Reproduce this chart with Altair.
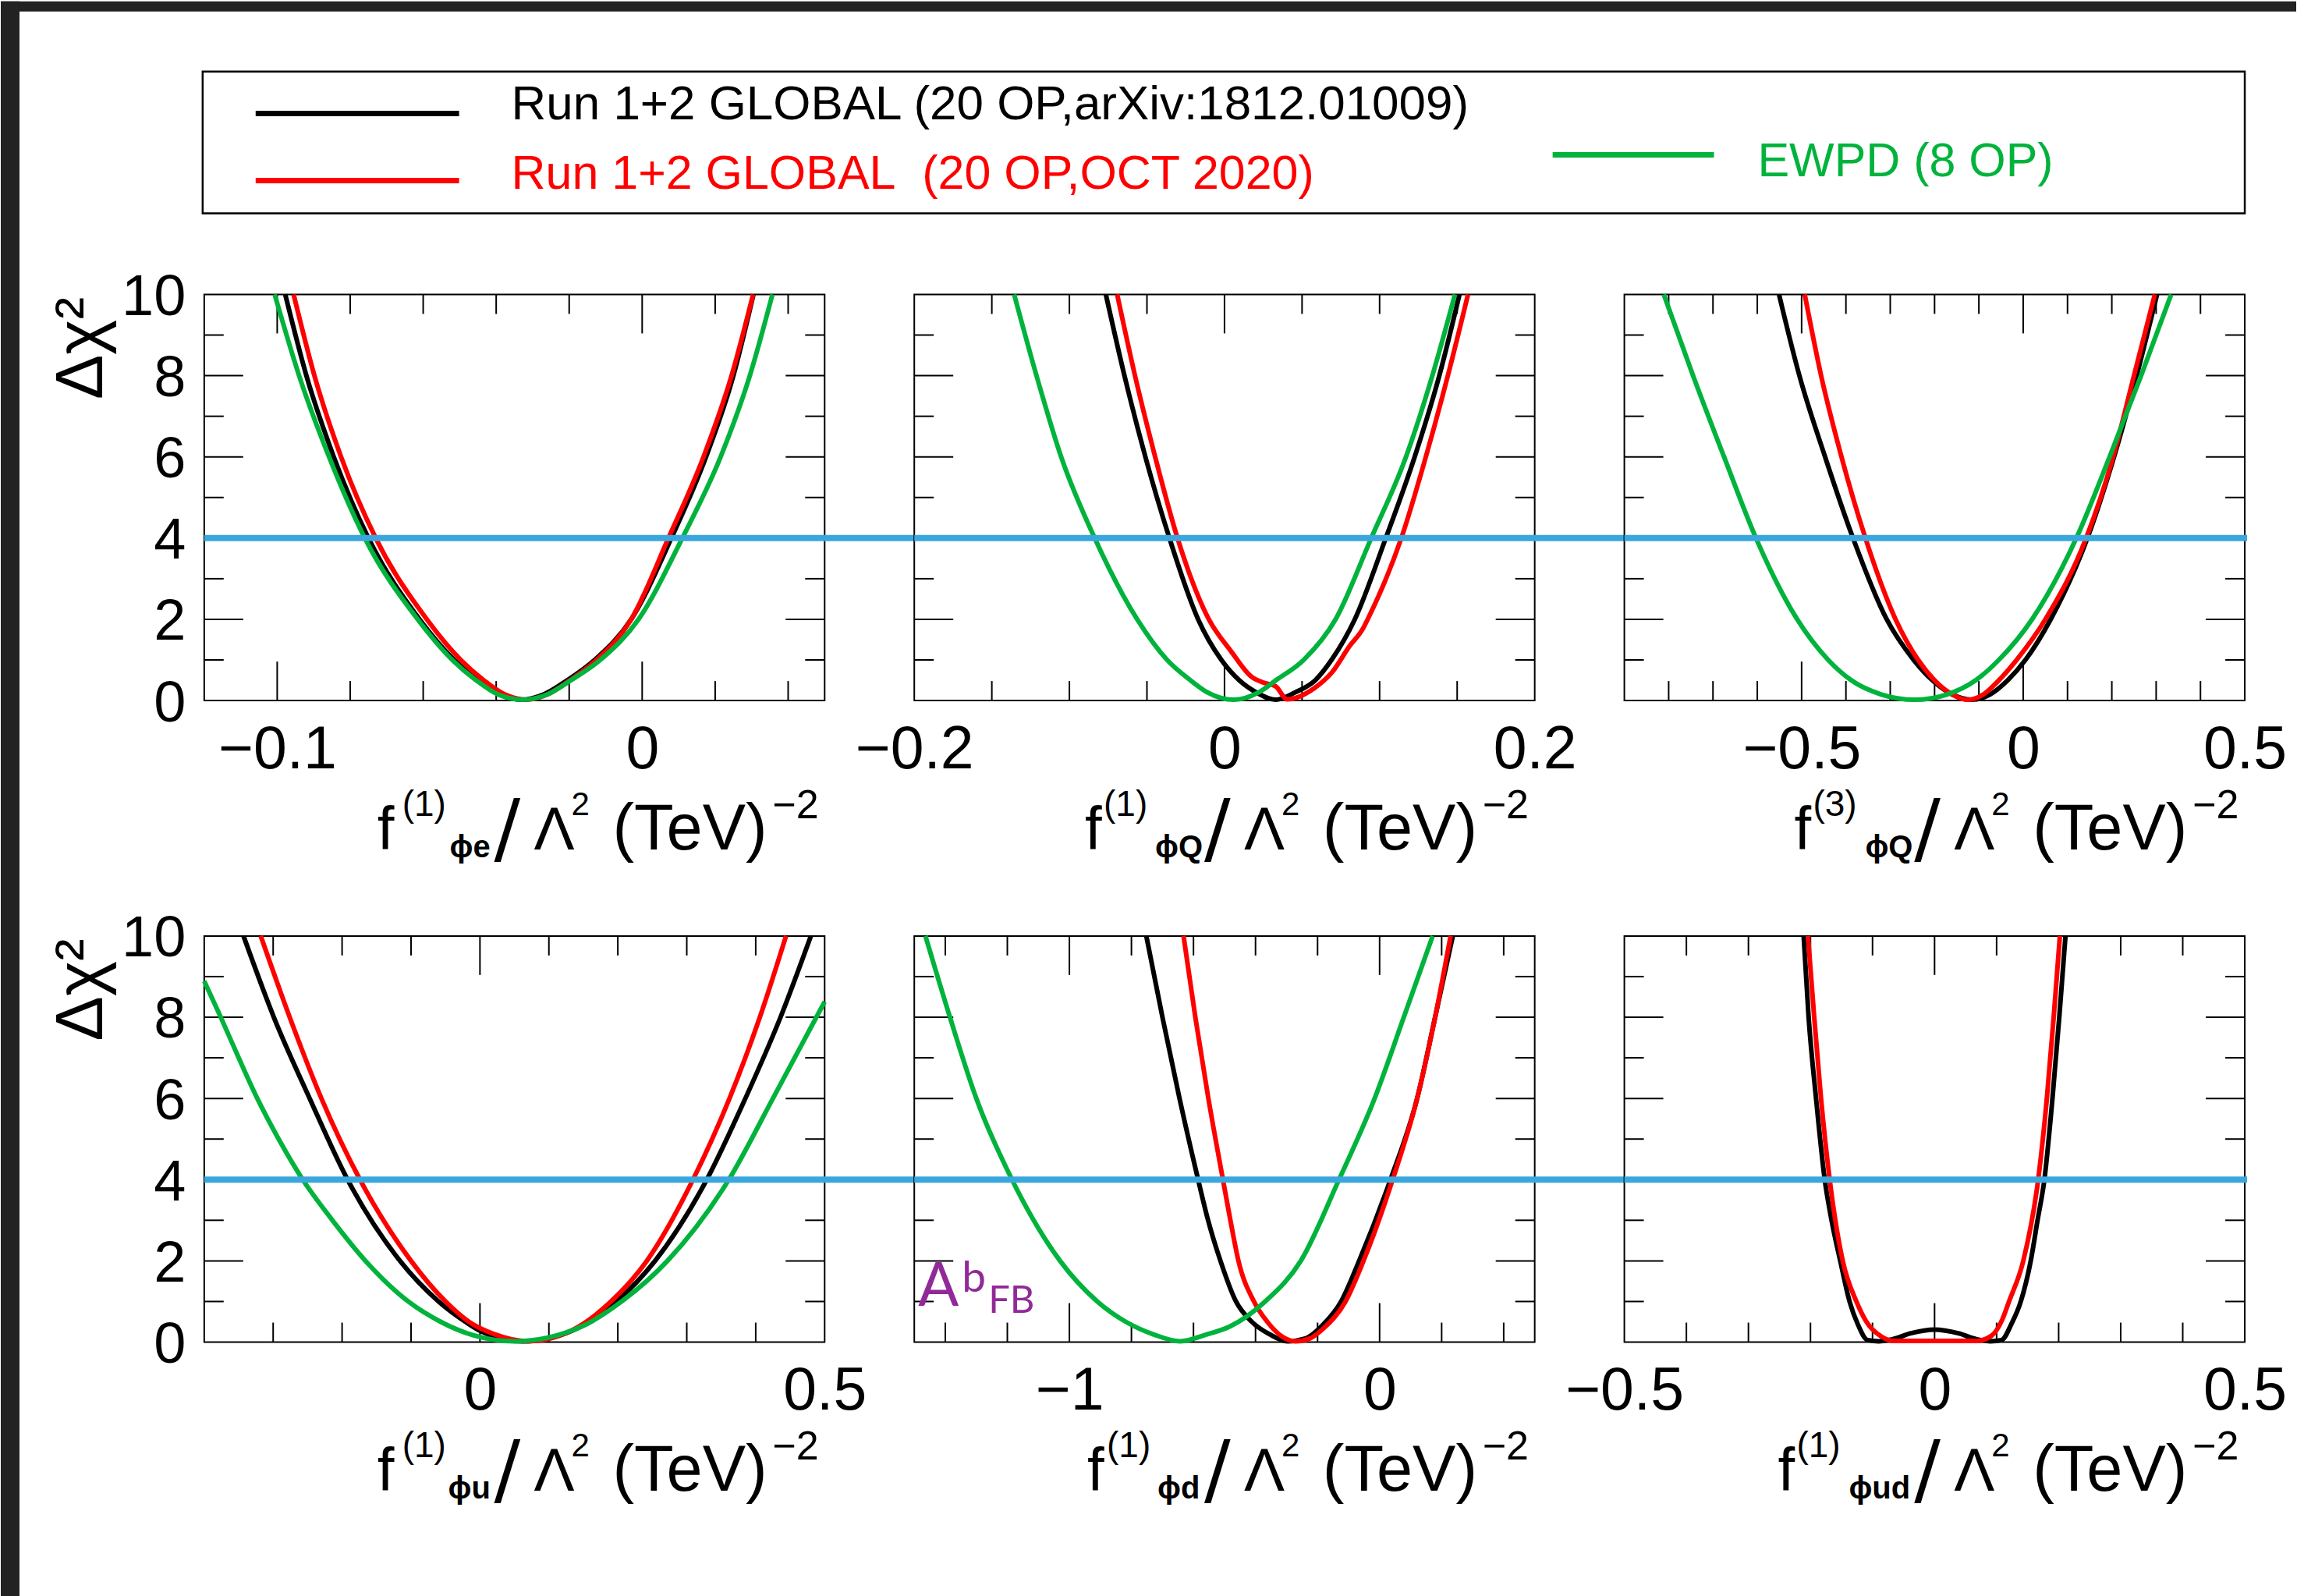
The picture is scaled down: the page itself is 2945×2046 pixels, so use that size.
import altair as alt
import pandas as pd

# ---------------- data ----------------
SERIES = ["Run 1+2 GLOBAL (20 OP,arXiv:1812.01009)",
          "Run 1+2 GLOBAL\u00a0 (20 OP,OCT 2020)",
          "EWPD (8 OP)"]
COLORS = ["#000000", "#ff0000", "#00b33c"]
THRESHOLD = 4.0

Y_LABELS = [0, 2, 4, 6, 8, 10]
Y_TICKS_LONG = [2, 4, 6, 8]
Y_TICKS_SHORT = [1, 3, 5, 7, 9]

# panel 1 : f(1)_phi e
E_Y = [10, 8, 6, 4, 2, 1, 0.5, 0.15, 0.02, 0.15, 0.5, 1, 2, 4, 6, 8, 10]
E_BLACK_X = [-0.0978, -0.0920, -0.0845, -0.0750, -0.0610, -0.0515, -0.0450, -0.0390, -0.0330,
             -0.0270, -0.0205, -0.0130, -0.0030, 0.0080, 0.0175, 0.0250, 0.0305]
E_RED_X = [-0.0955, -0.0898, -0.0825, -0.0730, -0.0590, -0.0497, -0.0434, -0.0376, -0.0318,
           -0.0260, -0.0198, -0.0125, -0.0030, 0.0072, 0.0168, 0.0245, 0.0304]
E_GREEN_X = [-0.1007, -0.0940, -0.0858, -0.0760, -0.0615, -0.0520, -0.0455, -0.0395, -0.0327,
             -0.0260, -0.0195, -0.0115, -0.0010, 0.0110, 0.0215, 0.0295, 0.0357]

# panel 2 : f(1)_phi Q
Q1_BLACK_X = [-0.0765, -0.0645, -0.0510, -0.0355, -0.0170, -0.0020, 0.0095, 0.0205, 0.0330,
              0.0455, 0.0585, 0.0690, 0.0840, 0.1040, 0.1226, 0.1385, 0.1515]
Q1_BLACK_Y = [10, 8, 6, 4, 2, 1, 0.5, 0.2, 0.02, 0.2, 0.5, 1, 2, 4, 6, 8, 10]
Q1_RED_X = [-0.0692, -0.0577, -0.0447, -0.0303, -0.0101, 0.0043, 0.0173, 0.0245, 0.0330, 0.0404,
            0.0577, 0.0692, 0.0808, 0.0894, 0.0923, 0.1140, 0.1298, 0.1440, 0.1570]
Q1_RED_Y = [10, 8, 6, 4, 2, 1.21, 0.59, 0.45, 0.35, 0.03, 0.30, 0.69, 1.35, 1.78, 2.0, 4, 6, 8, 10]
Q1_GREEN_X = [-0.1356, -0.1212, -0.1053, -0.0837, -0.0563, -0.0370, -0.0220, -0.0110, 0.0060,
              0.0220, 0.0332, 0.0510, 0.0716, 0.0946, 0.1170, 0.1340, 0.1486]
Q1_GREEN_Y = [10, 8, 6, 4, 2, 1, 0.5, 0.2, 0.02, 0.2, 0.5, 1, 2, 4, 6, 8, 10]

# panel 3 : f(3)_phi Q
Q3_Y = [10, 8, 6, 4, 2, 1, 0.5, 0.15, 0.02, 0.15, 0.5, 1, 2, 4, 6, 8, 10]
Q3_BLACK_X = [-0.551, -0.505, -0.447, -0.384, -0.308, -0.247, -0.205, -0.160, -0.117,
              -0.075, -0.035, 0.005, 0.062, 0.145, 0.205, 0.256, 0.302]
Q3_RED_X = [-0.493, -0.456, -0.410, -0.356, -0.288, -0.237, -0.200, -0.160, -0.125,
            -0.090, -0.055, -0.015, 0.050, 0.142, 0.203, 0.250, 0.297]
Q3_GREEN_X = [-0.811, -0.745, -0.675, -0.603, -0.510, -0.440, -0.388, -0.320, -0.245,
              -0.172, -0.107, -0.055, 0.020, 0.120, 0.195, 0.266, 0.334]

# panel 4 : f(1)_phi u
U_BLACK_X = [-0.343, -0.299, -0.247, -0.192, -0.116, -0.060, -0.021, 0.000, 0.062,
             0.146, 0.198, 0.254, 0.329, 0.385, 0.436, 0.480]
U_BLACK_Y = [10, 8, 6, 4, 2, 1, 0.5, 0.28, 0.02, 0.38, 1, 2, 4, 6, 8, 10]
U_RED_X = [-0.318, -0.276, -0.230, -0.174, -0.100, -0.050, -0.016, 0.020, 0.070,
           0.143, 0.190, 0.242, 0.309, 0.362, 0.406, 0.444]
U_RED_Y = [10, 8, 6, 4, 2, 1, 0.5, 0.2, 0.02, 0.38, 1, 2, 4, 6, 8, 10]
U_GREEN_X = [-0.400, -0.376, -0.350, -0.323, -0.292, -0.257, -0.214, -0.166, -0.104, -0.057,
             -0.010, 0.050, 0.147, 0.207, 0.272, 0.361, 0.425, 0.488, 0.500]
U_GREEN_Y = [8.89, 8.0, 7.0, 6.0, 5.0, 4.0, 3.0, 2.0, 1.0, 0.5,
             0.17, 0.02, 0.38, 1.02, 2.0, 4.0, 6.0, 8.0, 8.38]

# panel 5 : f(1)_phi d
D_BLACK_X = [-0.752, -0.700, -0.645, -0.585, -0.556, -0.513, -0.463, -0.412, -0.354, -0.297,
             -0.239, -0.182, -0.124, -0.066, 0.035, 0.121, 0.179, 0.236]
D_BLACK_Y = [10, 8, 6, 4, 3.09, 2, 1, 0.5, 0.19, 0.02, 0.09, 0.43, 1, 2, 4, 6, 8, 10]
D_RED_X = [-0.632, -0.594, -0.552, -0.505, -0.481, -0.455, -0.405, -0.362, -0.315, -0.272,
           -0.225, -0.182, -0.110, -0.052, 0.042, 0.121, 0.179, 0.229]
D_RED_Y = [10, 8, 6, 4, 3, 2, 1, 0.5, 0.14, 0.02, 0.09, 0.33, 1, 2, 4, 6, 8, 10]
D_GREEN_X = [-1.464, -1.385, -1.300, -1.185, -1.030, -0.910, -0.818, -0.729, -0.643,
             -0.557, -0.484, -0.369, -0.254, -0.131, -0.016, 0.078, 0.171]
D_GREEN_Y = [10, 8, 6, 4, 2, 1, 0.5, 0.19, 0.02, 0.19, 0.38, 1, 2, 4, 6, 8, 10]

# panel 6 : f(1)_phi ud  (no EWPD curve)
UD_BLACK_X = [-0.211, -0.203, -0.191, -0.177, -0.166, -0.152, -0.137, -0.124, -0.108, -0.090,
              -0.068, -0.038, 0.000, 0.038, 0.068, 0.090, 0.108, 0.124, 0.139, 0.155, 0.166,
              0.177, 0.190, 0.201, 0.211]
UD_BLACK_Y = [10, 8, 6, 4, 3, 2, 1, 0.45, 0.05, 0.02, 0.07, 0.22, 0.31, 0.22, 0.07, 0.02,
              0.05, 0.45, 1, 2, 3, 4, 6, 8, 10]
UD_RED_X = [-0.204, -0.194, -0.183, -0.169, -0.148, -0.126, -0.111, -0.086, -0.065, 0.000,
            0.068, 0.092, 0.109, 0.120, 0.143, 0.167, 0.181, 0.192, 0.202]
UD_RED_Y = [10, 8, 6, 4, 2, 1, 0.53, 0.14, 0.03, 0.03, 0.03, 0.16, 0.55, 1, 2, 4, 6, 8, 10]

PANEL_DOMAINS = [[-0.12, 0.05], [-0.2, 0.2], [-0.9, 0.5], [-0.4, 0.5], [-1.5, 0.5], [-0.5, 0.5]]
PANEL_LABELS = [[-0.1, 0], [-0.2, 0, 0.2], [-0.5, 0, 0.5], [0, 0.5], [-1, 0], [-0.5, 0, 0.5]]
PANEL_TICKS_LONG = [[-0.1, 0], [0], [-0.5, 0], [0], [-1, 0], [0]]
PANEL_TICKS_SHORT = [[-0.08, -0.06, -0.04, -0.02, 0.02, 0.04],
                     [-0.15, -0.1, -0.05, 0.05, 0.1, 0.15],
                     [-0.8, -0.7, -0.6, -0.4, -0.3, -0.2, -0.1, 0.1, 0.2, 0.3, 0.4],
                     [-0.3, -0.2, -0.1, 0.1, 0.2, 0.3, 0.4],
                     [-1.4, -1.2, -0.8, -0.6, -0.4, -0.2, 0.2, 0.4],
                     [-0.4, -0.3, -0.2, -0.1, 0.1, 0.2, 0.3, 0.4]]
TITLE_SUP = ["(1)", "(1)", "(3)", "(1)", "(1)", "(1)"]
TITLE_SUB = ["\u03d5e", "\u03d5Q", "\u03d5Q", "\u03d5u", "\u03d5d", "\u03d5ud"]
ANNOT = ["A", "b", "FB"]

PANEL_CURVES = [
    [(E_BLACK_X, E_Y), (E_RED_X, E_Y), (E_GREEN_X, E_Y)],
    [(Q1_BLACK_X, Q1_BLACK_Y), (Q1_RED_X, Q1_RED_Y), (Q1_GREEN_X, Q1_GREEN_Y)],
    [(Q3_BLACK_X, Q3_Y), (Q3_RED_X, Q3_Y), (Q3_GREEN_X, Q3_Y)],
    [(U_BLACK_X, U_BLACK_Y), (U_RED_X, U_RED_Y), (U_GREEN_X, U_GREEN_Y)],
    [(D_BLACK_X, D_BLACK_Y), (D_RED_X, D_RED_Y), (D_GREEN_X, D_GREEN_Y)],
    [(UD_BLACK_X, UD_BLACK_Y), (UD_RED_X, UD_RED_Y), None],
]

# ---------------- layout / style ----------------
FONT = "Liberation Sans"
BLUE = "#3aa7dc"
PURPLE = "#912a98"
BAND = "#222222"
W, H = 796, 521
GAP_X, GAP_Y = 115, 302
TICK_LONG, TICK_SHORT = 50, 25
NUM_FMT = ".2~f"
# x offsets (from the right edge) of "f", superscript and subscript of each x title
TITLE_OFFSETS = [(574, 542, 481), (577, 553, 487), (578, 554, 487),
                 (574, 542, 483), (574, 549, 484), (599, 575, 508)]

color_scale = alt.Scale(domain=SERIES, range=COLORS)


def seg(label, x, y, size, weight="normal", font=FONT, color="black"):
    return alt.Chart(pd.DataFrame({"label": [label]})).mark_text(
        align="left", baseline="alphabetic", font=font, fontSize=size,
        fontWeight=weight, color=color
    ).encode(x=alt.value(x), y=alt.value(y), text="label:N")


def panel(i):
    lo, hi = PANEL_DOMAINS[i]
    xsc = alt.Scale(domain=[lo, hi], nice=False, zero=False)
    ysc = alt.Scale(domain=[0, 10], nice=False, zero=False)
    col = i % 3
    xaxis = alt.Axis(values=PANEL_LABELS[i], format=NUM_FMT, ticks=False, tickSize=0,
                     domain=False, grid=False, labelFont=FONT, labelFontSize=77,
                     labelPadding=25, labelFlush=False, labelOverlap=False,
                     labelColor="black", title=None)
    if col == 0:
        yaxis = alt.Axis(values=Y_LABELS, format=NUM_FMT, ticks=False, tickSize=0,
                         domain=False, grid=False, labelFont=FONT, labelFontSize=74,
                         labelPadding=24, labelOffset=4, labelFlush=False,
                         labelOverlap=False, labelColor="black",
                         title="\u0394\u03c7\u00b2", titleFont=FONT, titleFontSize=86,
                         titleFontWeight="normal", titleColor="black", titleAngle=270,
                         titleAlign="right", titleBaseline="alphabetic",
                         titleX=-131, titleY=3)
    else:
        yaxis = None

    def X(field):
        return alt.X(field, scale=xsc, axis=xaxis)

    def Y(field):
        return alt.Y(field, scale=ysc, axis=yaxis)

    layers = []

    if i == 0:
        one = pd.DataFrame({"k": [0]})
        # dark slide bands (top and left)
        layers.append(alt.Chart(one).mark_rect(color=BAND).encode(
            x=alt.value(-261), x2=alt.value(2684), y=alt.value(-376), y2=alt.value(-363)))
        layers.append(alt.Chart(one).mark_rect(color=BAND).encode(
            x=alt.value(-261), x2=alt.value(-237), y=alt.value(-376), y2=alt.value(1670)))
        # legend box
        layers.append(alt.Chart(one).mark_rect(fill="white", stroke="black", strokeWidth=2.5).encode(
            x=alt.value(-2), x2=alt.value(2618), y=alt.value(-286), y2=alt.value(-104)))
        leg_lines = [(66, 327, -232), (66, 327, -146), (1730, 1937, -179)]
        leg_text = [(394, -225, 62), (394, -136, 61), (1993, -152, 61)]
        for k in range(3):
            dk = pd.DataFrame({"series": [SERIES[k]]})
            x1, x2, yy = leg_lines[k]
            layers.append(alt.Chart(dk).mark_rule(strokeWidth=7).encode(
                x=alt.value(x1), x2=alt.value(x2), y=alt.value(yy),
                color=alt.Color("series:N", scale=color_scale, legend=None)))
            tx, ty, fs = leg_text[k]
            layers.append(alt.Chart(dk).mark_text(
                align="left", baseline="alphabetic", font=FONT, fontSize=fs).encode(
                x=alt.value(tx), y=alt.value(ty), text="series:N",
                color=alt.Color("series:N", scale=color_scale, legend=None)))

    # inward ticks on all four sides
    for vals, L in ((PANEL_TICKS_LONG[i], TICK_LONG), (PANEL_TICKS_SHORT[i], TICK_SHORT)):
        base = alt.Chart(pd.DataFrame({"v": vals}))
        layers.append(base.mark_rule(color="black", strokeWidth=2).encode(
            x=X("v:Q"), y=alt.value(0), y2=alt.value(L)))
        layers.append(base.mark_rule(color="black", strokeWidth=2).encode(
            x=X("v:Q"), y=alt.value(H), y2=alt.value(H - L)))
    for vals, L in ((Y_TICKS_LONG, TICK_LONG), (Y_TICKS_SHORT, TICK_SHORT)):
        base = alt.Chart(pd.DataFrame({"v": vals}))
        layers.append(base.mark_rule(color="black", strokeWidth=2).encode(
            y=Y("v:Q"), x=alt.value(0), x2=alt.value(L)))
        layers.append(base.mark_rule(color="black", strokeWidth=2).encode(
            y=Y("v:Q"), x=alt.value(W), x2=alt.value(W - L)))

    # curves (black, red, then green on top)
    for k, cur in enumerate(PANEL_CURVES[i]):
        if cur is None:
            continue
        xs, ys = cur
        df = pd.DataFrame({"x": xs, "y": ys, "series": SERIES[k]})
        layers.append(alt.Chart(df).mark_line(strokeWidth=6, interpolate="monotone").encode(
            x=X("x:Q"), y=Y("y:Q"),
            color=alt.Color("series:N", scale=color_scale, legend=None)))

    # delta chi2 = 4 line, running across the gaps of a row
    x2 = W + GAP_X if col < 2 else W + 3
    layers.append(alt.Chart(pd.DataFrame({"t": [THRESHOLD]})).mark_rule(
        color=BLUE, strokeWidth=8).encode(y=Y("t:Q"), x=alt.value(0), x2=alt.value(x2)))

    # x title  f^(n)_{phi..}/Lambda^2 (TeV)^-2
    fdx, supdx, subdx = TITLE_OFFSETS[i]
    layers += [
        seg("f", W - fdx, H + 191, 78),
        seg(TITLE_SUP[i], W - supdx, H + 148, 46),
        seg(TITLE_SUB[i], W - subdx, H + 201, 40, weight="bold"),
        seg("/", W - 424, H + 198, 100, font="DejaVu Sans"),
        seg("\u039b", W - 373, H + 191, 78),
        seg("2", W - 325, H + 147, 42),
        seg("(TeV)", W - 272, H + 191, 83),
        seg("\u22122", W - 67, H + 151, 52),
    ]

    if i == 4:
        layers += [
            seg(ANNOT[0], 5, 474, 77, font="Lato", color=PURPLE),
            seg(ANNOT[1], 61, 456, 55, font="Lato", color=PURPLE),
            seg(ANNOT[2], 95, 483, 49, font="Lato", color=PURPLE),
        ]

    return alt.layer(*layers).properties(width=W, height=H)


chart = alt.concat(
    *[panel(i) for i in range(6)],
    columns=3,
    spacing={"row": GAP_Y, "column": GAP_X},
    bounds="flush",
).properties(padding=0, background="white").configure_view(stroke="black", strokeWidth=2)

chart.save("out.html", embed_options={"renderer": "svg", "actions": False})
